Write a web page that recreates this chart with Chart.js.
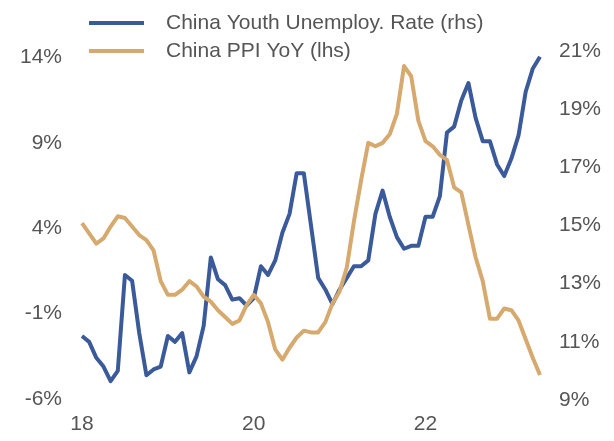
<!DOCTYPE html>
<html><head><meta charset="utf-8">
<script src="https://cdn.jsdelivr.net/npm/chart.js@4.4.1/dist/chart.umd.min.js"></script>
<style>html,body{margin:0;padding:0;background:#fff;}#wrap{width:614px;height:441px;position:relative;}</style>
</head><body><div id="wrap"><canvas id="c"></canvas></div>
<script>
const months = [
 '2018-01','2018-02','2018-03','2018-04','2018-05','2018-06','2018-07','2018-08','2018-09','2018-10','2018-11','2018-12',
 '2019-01','2019-02','2019-03','2019-04','2019-05','2019-06','2019-07','2019-08','2019-09','2019-10','2019-11','2019-12',
 '2020-01','2020-02','2020-03','2020-04','2020-05','2020-06','2020-07','2020-08','2020-09','2020-10','2020-11','2020-12',
 '2021-01','2021-02','2021-03','2021-04','2021-05','2021-06','2021-07','2021-08','2021-09','2021-10','2021-11','2021-12',
 '2022-01','2022-02','2022-03','2022-04','2022-05','2022-06','2022-07','2022-08','2022-09','2022-10','2022-11','2022-12',
 '2023-01','2023-02','2023-03','2023-04','2023-05'
];
const youthUnemployment = [
 11.2, 11.0, 10.45, 10.15, 9.65, 10.0, 13.3, 13.1, 11.3, 9.85, 10.05, 10.15,
 11.2, 11.0, 11.3, 9.95, 10.5, 11.55, 13.9, 13.15, 12.95, 12.45, 12.5, 12.25,
 12.5, 13.6, 13.3, 13.8, 14.75, 15.4, 16.8, 16.8, 15.0, 13.2, 12.8, 12.3,
 12.8, 13.2, 13.6, 13.6, 13.8, 15.4, 16.2, 15.3, 14.6, 14.2, 14.3, 14.3,
 15.3, 15.3, 16.0, 18.2, 18.4, 19.3, 19.9, 18.7, 17.9, 17.9, 17.1, 16.7,
 17.3, 18.1, 19.6, 20.4, 20.8
];
const ppiYoY = [
 4.3, 3.7, 3.1, 3.4, 4.1, 4.7, 4.6, 4.1, 3.6, 3.3, 2.7, 0.9,
 0.1, 0.1, 0.4, 0.9, 0.6, 0.0, -0.3, -0.8, -1.2, -1.6, -1.4, -0.5,
 0.1, -0.4, -1.5, -3.1, -3.7, -3.0, -2.4, -2.0, -2.1, -2.1, -1.5, -0.4,
 0.3, 1.7, 4.4, 6.8, 9.0, 8.8, 9.0, 9.5, 10.7, 13.5, 12.9, 10.3,
 9.1, 8.8, 8.3, 8.0, 6.4, 6.1, 4.2, 2.3, 0.9, -1.3, -1.3, -0.7,
 -0.8, -1.4, -2.5, -3.6, -4.6
];
const xTickMonths = ['2018-01','2020-01','2022-01'];
const xTickLabels = ['18','20','22'];
const leftTicks = [-6, -1, 4, 9, 14];
const rightTicks = [9, 11, 13, 15, 17, 19, 21];
const seriesLabels = ['China Youth Unemploy. Rate (rhs)', 'China PPI YoY (lhs)'];

const BLUE = '#3A5A9A';
const GOLD = '#D6A96F';
const TXT = '#555555';
const FONT = {family: "'Liberation Sans', Arial, Helvetica, sans-serif", size: 21};

const legendPlugin = {
  id: 'customLegend',
  afterDraw(chart) {
    const ctx = chart.ctx;
    ctx.save();
    chart.data.datasets.forEach((ds, i) => {
      const y = 23 + i * 28;
      ctx.strokeStyle = ds.borderColor;
      ctx.lineWidth = 4;
      ctx.lineCap = 'butt';
      ctx.beginPath();
      ctx.moveTo(89, y);
      ctx.lineTo(144, y);
      ctx.stroke();
      ctx.fillStyle = TXT;
      ctx.font = FONT.size + 'px ' + FONT.family;
      ctx.textBaseline = 'middle';
      ctx.textAlign = 'left';
      ctx.fillText(ds.label, 166, y);
    });
    ctx.restore();
  }
};

new Chart(document.getElementById('c'), {
  type: 'line',
  data: {
    labels: months,
    datasets: [
      {label: seriesLabels[0], data: youthUnemployment, yAxisID: 'yR', borderColor: BLUE, backgroundColor: BLUE,
       borderWidth: 4, pointRadius: 0, tension: 0, order: 1, borderJoinStyle: 'round'},
      {label: seriesLabels[1], data: ppiYoY, yAxisID: 'yL', borderColor: GOLD, backgroundColor: GOLD,
       borderWidth: 4, pointRadius: 0, tension: 0, order: 0, borderJoinStyle: 'round'}
    ]
  },
  options: {
    responsive: true,
    maintainAspectRatio: false,
    devicePixelRatio: 1,
    animation: false,
    layout: {padding: {top: 51, left: 0, right: 0, bottom: 0}},
    plugins: {legend: {display: false}, tooltip: {enabled: false}},
    scales: {
      x: {
        type: 'category', offset: false,
        grid: {display: false, drawTicks: false}, border: {display: false},
        ticks: {
          autoSkip: false, maxRotation: 0, minRotation: 0, padding: 12, color: TXT, font: FONT,
          callback: function(v, i) { const k = xTickMonths.indexOf(months[i]); return k >= 0 ? xTickLabels[k] : null; }
        },
        afterFit: s => { s.height = 41; }
      },
      yL: {
        position: 'left', min: -6.06, max: 14.38,
        grid: {display: false, drawTicks: false}, border: {display: false},
        afterBuildTicks: s => { s.ticks = leftTicks.map(v => ({value: v})); },
        ticks: {padding: 20, color: TXT, font: FONT, callback: v => v + '%'},
        afterFit: s => { s.width = 82; }
      },
      yR: {
        position: 'right', min: 9, max: 21,
        grid: {display: false, drawTicks: false}, border: {display: false},
        afterBuildTicks: s => { s.ticks = rightTicks.map(v => ({value: v})); },
        ticks: {padding: 19, color: TXT, font: FONT, callback: v => v + '%'},
        afterFit: s => { s.width = 74; }
      }
    }
  },
  plugins: [legendPlugin]
});
</script>
</body></html>
